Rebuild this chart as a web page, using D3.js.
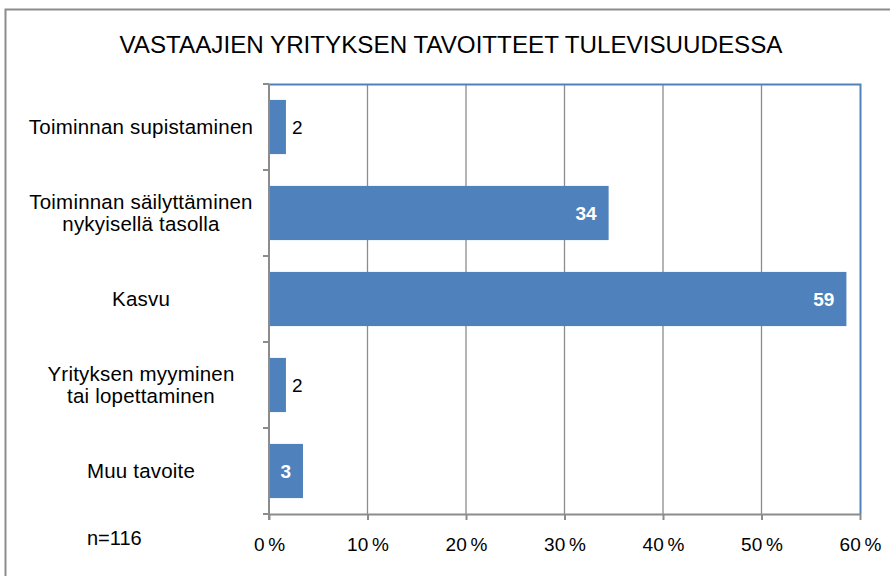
<!DOCTYPE html>
<html>
<head>
<meta charset="utf-8">
<script src="https://cdn.jsdelivr.net/npm/d3@7"></script>
<style>
  body { margin: 0; background: #fff; }
  text { font-family: "Liberation Sans", Arial, sans-serif; fill: #000; }
</style>
</head>
<body>
<div id="myChart"></div>
<script>
// data: share of respondents (%), n=116
let categories = [
    ["Toiminnan supistaminen"],
    ["Toiminnan säilyttäminen", "nykyisellä tasolla"],
    ["Kasvu"],
    ["Yrityksen myyminen", "tai lopettaminen"],
    ["Muu tavoite"]
];
let values = [1.72, 34.48, 58.62, 1.72, 3.45];
let ticks = [0, 10, 20, 30, 40, 50, 60];

let W = 890, H = 576;
let margin = { top: 84, right: 30, bottom: 62, left: 269 },
    width = W - margin.left - margin.right,
    height = H - margin.top - margin.bottom;

let svg = d3.select("#myChart").append("svg")
    .attr("width", W)
    .attr("height", H);

// chart area border
svg.append("rect")
    .attr("x", 5.5).attr("y", 9.5)
    .attr("width", W + 10).attr("height", H + 10)
    .attr("fill", "none")
    .attr("stroke", "#8c8c8c")
    .attr("stroke-width", 2);

svg.append("text")
    .attr("x", 451)
    .attr("y", 53)
    .attr("text-anchor", "middle")
    .attr("textLength", 663)
    .attr("lengthAdjust", "spacingAndGlyphs")
    .style("font-size", "23px")
    .text("VASTAAJIEN  YRITYKSEN  TAVOITTEET TULEVISUUDESSA");

let g = svg.append("g")
    .attr("transform", "translate(" + margin.left + "," + margin.top + ")");

let x = d3.scaleLinear().domain([0, 60]).range([0, width]);
let y = d3.scaleBand()
    .domain(d3.range(categories.length))
    .range([0, height])
    .paddingInner(0.37)
    .paddingOuter(0.185);

// vertical gridlines
g.selectAll(".grid")
    .data(ticks.slice(1, -1))
    .enter().append("line")
    .attr("x1", d => x(d)).attr("x2", d => x(d))
    .attr("y1", 0).attr("y2", height)
    .attr("stroke", "#8c8c8c")
    .attr("stroke-width", 1.3);

// plot area border (top and right)
g.append("path")
    .attr("d", "M0,0.5H" + (x(60) + 0.5) + "V" + height)
    .attr("fill", "none")
    .attr("stroke", "#4f81bd")
    .attr("stroke-width", 2);

// bars
g.selectAll(".bar")
    .data(values)
    .enter().append("rect")
    .attr("class", "bar")
    .attr("x", 0)
    .attr("y", (d, i) => y(i))
    .attr("width", d => x(d))
    .attr("height", y.bandwidth())
    .attr("fill", "#4f81bd");

// value labels
g.selectAll(".val")
    .data(values)
    .enter().append("text")
    .attr("class", "val")
    .attr("x", d => d < 3 ? x(d) + 6 : x(d) - 12)
    .attr("y", (d, i) => y(i) + y.bandwidth() / 2)
    .attr("dy", "0.36em")
    .attr("text-anchor", d => d < 3 ? "start" : "end")
    .style("font-size", "19px")
    .style("font-weight", d => d < 3 ? "normal" : "bold")
    .style("fill", d => d < 3 ? "#000" : "#fff")
    .text(d => d3.format(".0f")(d));

// x axis
let xAxis = g.append("g")
    .attr("transform", "translate(0," + height + ")")
    .call(d3.axisBottom(x).tickValues(ticks).tickSize(6).tickSizeOuter(0)
        .tickFormat(d => d + "\u2009%"));
xAxis.select(".domain").attr("stroke", "#8c8c8c").attr("stroke-width", 2);
xAxis.selectAll(".tick line").attr("stroke", "#8c8c8c").attr("stroke-width", 2);
xAxis.selectAll(".tick text")
    .attr("y", 24)
    .style("font-size", "19px")
    .style("font-family", "'Liberation Sans', Arial, sans-serif")
    .attr("fill", "#000");

// y axis: ticks at band boundaries
let yAxis = g.append("g");
yAxis.append("line")
    .attr("x1", 0).attr("x2", 0).attr("y1", 0).attr("y2", height + 6)
    .attr("stroke", "#8c8c8c").attr("stroke-width", 2);
yAxis.selectAll(".ytick")
    .data(d3.range(categories.length + 1))
    .enter().append("line")
    .attr("x1", -6).attr("x2", 0)
    .attr("y1", i => i * height / categories.length)
    .attr("y2", i => i * height / categories.length)
    .attr("stroke", "#8c8c8c").attr("stroke-width", 2);

// category labels
let lab = g.selectAll(".cat")
    .data(categories)
    .enter().append("text")
    .attr("class", "cat")
    .attr("text-anchor", "middle")
    .attr("y", (d, i) => y(i) + y.bandwidth() / 2 - (d.length - 1) * 11)
    .style("font-size", "20.5px")
    .style("letter-spacing", "0.2px");
lab.each(function(d) {
    let t = d3.select(this);
    let cx = -128;
    d.forEach(function(line, k) {
        t.append("tspan")
            .attr("x", cx)
            .attr("dy", k === 0 ? "0.36em" : "22px")
            .text(line);
    });
});

svg.append("text")
    .attr("x", 87)
    .attr("y", 545)
    .style("font-size", "20px")
    .text("n=116");
</script>
</body>
</html>
